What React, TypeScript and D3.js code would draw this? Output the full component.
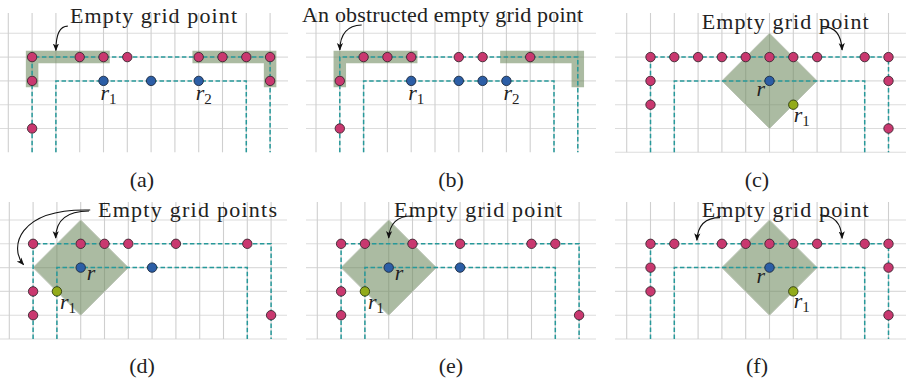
import React from 'react';
import * as d3 from 'd3';

type P = [number, number];

// ---- data (grid coordinates: [column, row]) ----
const captions = ['(a)', '(b)', '(c)', '(d)', '(e)', '(f)'];
const annotations = ['Empty grid point', 'An obstructed empty grid point', 'Empty grid point', 'Empty grid points', 'Empty grid point', 'Empty grid point'];

const magentaA: P[] = [[1,1],[3,1],[4,1],[5,1],[8,1],[9,1],[10,1],[11,1],[1,2],[11,2],[1,4]];
const magentaB: P[] = [[2,1],[3,1],[4,1],[6,1],[7,1],[9,1],[1,2],[1,4]];
const magentaC: P[] = [[1,1],[2,1],[3,1],[4,1],[5,1],[6,1],[7,1],[8,1],[10,1],[11,1],[1,2],[11,2],[1,3],[11,4]];
const magentaD: P[] = [[1,1],[3,1],[4,1],[5,1],[7,1],[10,1],[1,3],[1,4],[11,4]];
const magentaE: P[] = [[1,1],[2,1],[4,1],[6,1],[9,1],[10,1],[1,3],[1,4],[11,4]];
const magentaF: P[] = [[1,1],[2,1],[4,1],[5,1],[6,1],[7,1],[8,1],[10,1],[11,1],[1,2],[11,2],[1,3],[11,4]];

const blueA: P[] = [[4,2],[6,2],[8,2]];
const blueB: P[] = [[4,2],[6,2],[7,2],[8,2]];
const blueC: P[] = [[6,2]];
const blueD: P[] = [[3,2],[6,2]];
const blueE: P[] = [[3,2],[6,2]];
const blueF: P[] = [[6,2]];

const greenC: P[] = [[7,3]];
const greenD: P[] = [[2,3]];
const greenE: P[] = [[2,3]];
const greenF: P[] = [[7,3]];

// diamond centres (radius 2 cells)
const diamondCentres: (P | null)[] = [null, null, [6,2], [3,2], [3,2], [6,2]];

// highlighted L-shaped bands
const bandsAB: P[][] = [[[1,2],[1,1],[4,1]], [[8,1],[11,1],[11,2]]];

// robot labels: [text, subscript, anchor point, style]
const labelsA = [['r','1',[4,2],'below'],['r','2',[8,2],'below']];
const labelsB = [['r','1',[4,2],'below'],['r','2',[8,2],'below']];
const labelsC = [['r','',[6,2],'belowLeft'],['r','1',[7,3],'belowRight']];
const labelsD = [['r','',[3,2],'right'],['r','1',[2,3],'belowRight2']];
const labelsE = [['r','',[3,2],'right'],['r','1',[2,3],'belowRight2']];
const labelsF = [['r','',[6,2],'belowLeft'],['r','1',[7,3],'belowRight']];

// annotation arrows (grid coords): start, control(s), end
const arrowsA: P[][] = [[[2.5,-0.3],[2.0,-0.3],[2.0,0.72]]];
const arrowsB: P[][] = [[[1.92,-0.35],[1.02,-0.32],[1.0,0.7]]];
const arrowsC: P[][] = [[[8.2,-0.28],[9.0,-0.3],[9.05,0.7]]];
const arrowsD: P[][] = [[[3.4,-0.42],[0.3,-0.5],[0.0,1.2],[0.6,1.88]], [[3.35,-0.38],[1.95,-0.38],[1.95,0.76]]];
const arrowsE: P[][] = [[[4.04,-0.17],[3.05,-0.2],[3.0,0.76]]];
const arrowsF: P[][] = [[[3.92,-0.1],[3.0,-0.1],[2.95,0.85]], [[8.12,-0.21],[9.0,-0.2],[9.05,0.77]]];

const magentas = [magentaA, magentaB, magentaC, magentaD, magentaE, magentaF];
const blues = [blueA, blueB, blueC, blueD, blueE, blueF];
const greens = [[], [], greenC, greenD, greenE, greenF];
const labels = [labelsA, labelsB, labelsC, labelsD, labelsE, labelsF];
const arrows = [arrowsA, arrowsB, arrowsC, arrowsD, arrowsE, arrowsF];

// ---- layout ----
const STEP = 23.8;
const X0 = [8.3, 316, 626.7, 9.3, 317.3, 626.7];
const Y0 = [33.3, 33.3, 33.3, 220, 220, 220];
const HX: [number, number][] = [[0, 288], [306, 596], [615, 906], [0, 287], [306, 596], [615, 906]];
const VTOP = [13, 13, 13, 202, 202, 202];
const BOTTOM_LINE = [false, false, true, true, true, true];
const CAPX = [142, 451, 757, 142, 451, 757];
const CAPY = [187, 187, 187, 373, 373, 373];
const ANN = [
  { x: 70, y: 22.7, w: 167 },
  { x: 302, y: 22, w: 281 },
  { x: 701.7, y: 29, w: 167 },
  { x: 98, y: 217, w: 179 },
  { x: 394, y: 216.7, w: 168 },
  { x: 701.7, y: 217.3, w: 167 },
];

const SERIF = '"Liberation Serif", "DejaVu Serif", serif';
const TEAL = '#27999a';
const SAGE = '#6e8a5e';
const SAGE_OP = 0.58;

function Panel({ i }: { i: number }) {
  const x = d3.scaleLinear().domain([0, 11]).range([X0[i], X0[i] + 11 * STEP]);
  const y = d3.scaleLinear().domain([0, 5]).range([Y0[i], Y0[i] + 5 * STEP]);
  const line = d3.line<P>().x(d => x(d[0])).y(d => y(d[1]));
  const cols = d3.range(0, 12);
  const rows = d3.range(0, BOTTOM_LINE[i] ? 6 : 5);
  const outer: P[] = [[1, 5], [1, 1], [11, 1], [11, 5]];
  const inner: P[] = [[2, 5], [2, 2], [10, 2], [10, 5]];
  const dc = diamondCentres[i];
  const ann = ANN[i];

  const arrowPath = (pts: P[]) => {
    const p = d3.path();
    p.moveTo(x(pts[0][0]), y(pts[0][1]));
    if (pts.length === 3) {
      p.quadraticCurveTo(x(pts[1][0]), y(pts[1][1]), x(pts[2][0]), y(pts[2][1]));
    } else {
      p.bezierCurveTo(x(pts[1][0]), y(pts[1][1]), x(pts[2][0]), y(pts[2][1]), x(pts[3][0]), y(pts[3][1]));
    }
    return p.toString();
  };

  const labelPos = (pt: P, style: string) => {
    const px = x(pt[0]), py = y(pt[1]);
    switch (style) {
      case 'below': return { x: px - 3, y: py + 19 };
      case 'belowLeft': return { x: px - 13, y: py + 15 };
      case 'belowRight': return { x: px + 0.5, y: py + 17 };
      case 'right': return { x: px + 6, y: py + 12.5 };
      default: return { x: px + 3, y: py + 17.5 };
    }
  };

  return (
    <g>
      {/* grid */}
      {rows.map(r => (
        <line key={'h' + r} x1={HX[i][0]} x2={HX[i][1]} y1={y(r)} y2={y(r)} stroke="#dcdcdc" strokeWidth={1.1} />
      ))}
      {cols.map(c => (
        <line key={'v' + c} x1={x(c)} x2={x(c)} y1={VTOP[i]} y2={y(5)} stroke="#cfcfcf" strokeWidth={1.1} />
      ))}
      {/* highlight bands */}
      {i < 2 && bandsAB.map((b, k) => (
        <path key={'b' + k} d={line(b) || ''} fill="none" stroke={SAGE} strokeOpacity={SAGE_OP}
          strokeWidth={12.5} strokeLinecap="square" strokeLinejoin="miter" />
      ))}
      {/* diamond */}
      {dc && (
        <path d={(line([[dc[0], dc[1] - 2], [dc[0] + 2, dc[1]], [dc[0], dc[1] + 2], [dc[0] - 2, dc[1]]]) || '') + 'Z'}
          fill={SAGE} fillOpacity={SAGE_OP} stroke="#bcc4b6" strokeWidth={1} />
      )}
      {/* dashed paths */}
      <path d={line(outer) || ''} fill="none" stroke={TEAL} strokeWidth={1.5} strokeDasharray="4.5,2.5" />
      <path d={line(inner) || ''} fill="none" stroke={TEAL} strokeWidth={1.5} strokeDasharray="4.5,2.5" />
      {/* dots */}
      {magentas[i].map((d, k) => (
        <circle key={'m' + k} cx={x(d[0])} cy={y(d[1])} r={4.7} fill="#c9386f" stroke="#3b2630" strokeWidth={0.9} />
      ))}
      {blues[i].map((d, k) => (
        <circle key={'bl' + k} cx={x(d[0])} cy={y(d[1])} r={4.7} fill="#2c5ea6" stroke="#1c2a40" strokeWidth={0.9} />
      ))}
      {(greens[i] as P[]).map((d, k) => (
        <circle key={'g' + k} cx={x(d[0])} cy={y(d[1])} r={4.7} fill="#93ab1a" stroke="#2f3a10" strokeWidth={0.9} />
      ))}
      {/* labels */}
      {labels[i].map((l: any, k) => {
        const pos = labelPos(l[2] as P, l[3]);
        return (
          <text key={'l' + k} x={pos.x} y={pos.y} fontFamily={SERIF} fontSize={22} fontStyle="italic" fill="#222">
            {l[0]}
            {l[1] && <tspan fontStyle="normal" fontSize={15} dy={4}>{l[1]}</tspan>}
          </text>
        );
      })}
      {/* annotation */}
      <text x={ann.x} y={ann.y} fontFamily={SERIF} fontSize={22} fill="#222" textLength={ann.w} lengthAdjust="spacing">
        {annotations[i]}
      </text>
      {arrows[i].map((a, k) => (
        <path key={'a' + k} d={arrowPath(a)} fill="none" stroke="#111" strokeWidth={1.1} markerEnd="url(#ah)" />
      ))}
      {/* caption */}
      <text x={CAPX[i]} y={CAPY[i]} textAnchor="middle" fontFamily={SERIF} fontSize={22} fill="#222">
        {captions[i]}
      </text>
    </g>
  );
}

export default function App() {
  return (
    <svg width={906} height={385} style={{ position: 'absolute', left: 0, top: 0, background: '#fff' }}>
      <defs>
        <marker id="ah" viewBox="0 0 10 10" refX="9" refY="5" markerWidth="7" markerHeight="7" orient="auto">
          <path d="M0,1 L10,5 L0,9 L2.5,5 Z" fill="#111" />
        </marker>
      </defs>
      <rect x={0} y={0} width={906} height={385} fill="#fff" />
      {captions.map((_, i) => <Panel key={i} i={i} />)}
    </svg>
  );
}
